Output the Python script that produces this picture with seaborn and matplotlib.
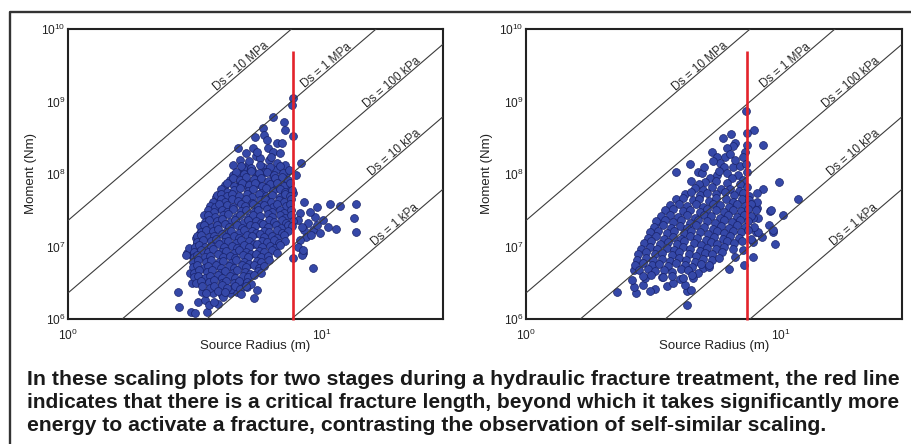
import numpy as np
import pandas as pd
import matplotlib
matplotlib.use("Agg")
import matplotlib.pyplot as plt
import matplotlib.transforms as mtransforms
from matplotlib.lines import Line2D
import seaborn as sns

sns.set_style("white")
plt.rcParams["font.family"] = ["Liberation Sans", "DejaVu Sans"]

# ---------------- data (log10 source radius [m], log10 moment [Nm]) ----------------
left_upper = [
    (0.886, 9.05), (0.882, 8.95), (0.850, 8.72), (0.807, 8.79), (0.854, 8.61), (0.768, 8.64),
    (0.886, 8.52), (0.736, 8.51), (0.772, 8.54), (0.669, 8.36), (0.728, 8.36), (0.783, 8.47),
    (0.823, 8.43), (0.787, 8.36), (0.843, 8.43), (0.701, 8.29), (0.740, 8.25), (0.807, 8.30),
    (0.835, 8.29), (0.756, 8.22), (0.791, 8.19), (0.768, 8.10), (0.709, 8.12), (0.677, 8.19),
    (0.650, 8.12), (0.854, 8.12), (0.823, 8.15), (0.724, 8.06), (0.697, 8.03), (0.650, 7.99),
    (0.638, 7.92), (0.677, 7.89), (0.748, 7.96), (0.807, 7.99), (0.847, 7.96), (0.791, 7.88),
    (0.756, 7.85), (0.709, 7.82), (0.665, 7.82), (0.862, 7.82), (0.823, 7.82), (0.886, 7.74),
    (0.598, 7.64), (0.587, 7.53), (0.610, 7.66), (0.917, 8.15), (0.898, 7.99),
    (0.714, 8.18), (0.745, 8.30), (0.800, 8.24), (0.820, 8.06), (0.860, 8.02), (0.690, 8.08),
    (0.735, 7.95), (0.775, 8.03), (0.815, 7.92), (0.858, 7.90), (0.700, 7.90), (0.620, 7.85),
    (0.680, 7.98),
]
left_beyond = [
    (0.913, 7.46), (0.929, 7.61), (0.980, 7.55), (1.031, 7.59), (1.071, 7.56), (1.134, 7.59),
    (1.126, 7.39), (1.134, 7.20), (1.055, 7.24), (1.024, 7.27), (1.004, 7.37), (0.972, 7.41),
    (0.953, 7.48), (0.945, 7.32), (0.965, 7.23), (0.929, 7.23), (0.937, 7.13), (0.913, 7.09),
    (0.906, 7.37), (0.921, 7.27), (0.992, 7.19), (0.980, 7.30), (0.957, 7.16), (0.906, 6.99),
    (0.925, 6.91), (0.965, 6.70), (0.886, 6.84), (0.921, 6.88), (0.925, 6.95),
]
left_lower = [
    (0.433, 6.37), (0.437, 6.17), (0.484, 6.10), (0.500, 6.08), (0.547, 6.10), (0.512, 6.23),
    (0.539, 6.26), (0.591, 6.21), (0.571, 6.36), (0.606, 6.33), (0.638, 6.36), (0.665, 6.37),
    (0.732, 6.29), (0.744, 6.40), (0.528, 6.37), (0.468, 6.91), (0.476, 6.98), (0.508, 7.05),
    (0.492, 6.86), (0.520, 7.19), (0.531, 7.23), (0.555, 6.19), (0.642, 6.41), (0.705, 6.44),
    (0.480, 6.64), (0.488, 6.50), (0.520, 6.57), (0.464, 6.88), (0.496, 6.89), (0.693, 6.48),
    (0.610, 6.30), (0.575, 6.24), (0.583, 7.68), (0.560, 7.50), (0.548, 7.37), (0.505, 7.12),
]
left_core = [
    (0.680, 8.11), (0.722, 8.08), (0.758, 8.12), (0.797, 8.09), (0.836, 8.11),
    (0.662, 8.03), (0.694, 8.00), (0.722, 8.04), (0.752, 8.01), (0.783, 8.03), (0.812, 7.99), (0.845, 8.02), (0.872, 8.05),
    (0.648, 7.95), (0.676, 7.92), (0.703, 7.96), (0.731, 7.93), (0.760, 7.95), (0.787, 7.91), (0.814, 7.94), (0.842, 7.96), (0.868, 7.92),
    (0.628, 7.87), (0.655, 7.84), (0.684, 7.88), (0.712, 7.85), (0.738, 7.87), (0.766, 7.83), (0.795, 7.86), (0.822, 7.88), (0.850, 7.84), (0.876, 7.87),
    (0.603, 7.80), (0.627, 7.75), (0.655, 7.78), (0.676, 7.81), (0.708, 7.76), (0.729, 7.79), (0.760, 7.74), (0.779, 7.81), (0.806, 7.77), (0.836, 7.80), (0.853, 7.75), (0.881, 7.78),
    (0.588, 7.71), (0.602, 7.72), (0.626, 7.69), (0.645, 7.73), (0.674, 7.70), (0.706, 7.72), (0.724, 7.68), (0.753, 7.73), (0.780, 7.70), (0.802, 7.71), (0.834, 7.68), (0.853, 7.73), (0.876, 7.70),
    (0.571, 7.62), (0.601, 7.65), (0.620, 7.61), (0.647, 7.66), (0.671, 7.63), (0.700, 7.65), (0.724, 7.60), (0.755, 7.64), (0.775, 7.66), (0.799, 7.62), (0.832, 7.64), (0.851, 7.61), (0.878, 7.66),
    (0.560, 7.56), (0.578, 7.55), (0.595, 7.58), (0.628, 7.57), (0.648, 7.54), (0.680, 7.58), (0.698, 7.56), (0.730, 7.59), (0.749, 7.55), (0.774, 7.57), (0.806, 7.54), (0.824, 7.59), (0.857, 7.56), (0.875, 7.58),
    (0.550, 7.51), (0.574, 7.48), (0.606, 7.50), (0.625, 7.47), (0.651, 7.52), (0.682, 7.49), (0.700, 7.51), (0.733, 7.47), (0.750, 7.50), (0.784, 7.52), (0.802, 7.48), (0.834, 7.50), (0.852, 7.46), (0.879, 7.51),
    (0.535, 7.43), (0.553, 7.44), (0.578, 7.41), (0.609, 7.43), (0.629, 7.45), (0.660, 7.41), (0.678, 7.43), (0.710, 7.40), (0.729, 7.44), (0.755, 7.42), (0.786, 7.45), (0.805, 7.41), (0.837, 7.43), (0.856, 7.40), (0.880, 7.44),
    (0.538, 7.34), (0.556, 7.37), (0.588, 7.35), (0.607, 7.38), (0.639, 7.34), (0.657, 7.36), (0.689, 7.33), (0.709, 7.37), (0.740, 7.35), (0.759, 7.32), (0.791, 7.36), (0.810, 7.34), (0.841, 7.37), (0.860, 7.33), (0.885, 7.35),
    (0.521, 7.28), (0.536, 7.30), (0.567, 7.27), (0.585, 7.29), (0.617, 7.31), (0.636, 7.27), (0.667, 7.29), (0.686, 7.26), (0.717, 7.30), (0.737, 7.28), (0.768, 7.31), (0.787, 7.27), (0.818, 7.29), (0.838, 7.26), (0.868, 7.30), (0.884, 7.28),
    (0.523, 7.20), (0.542, 7.23), (0.573, 7.21), (0.592, 7.24), (0.623, 7.20), (0.642, 7.22), (0.673, 7.19), (0.692, 7.23), (0.723, 7.21), (0.742, 7.18), (0.773, 7.22), (0.792, 7.20), (0.823, 7.23), (0.842, 7.19), (0.867, 7.21),
    (0.510, 7.14), (0.524, 7.16), (0.555, 7.13), (0.574, 7.15), (0.605, 7.17), (0.624, 7.13), (0.655, 7.15), (0.674, 7.12), (0.705, 7.16), (0.724, 7.14), (0.755, 7.17), (0.774, 7.13), (0.805, 7.15), (0.824, 7.12), (0.852, 7.16),
    (0.508, 7.06), (0.531, 7.09), (0.563, 7.07), (0.582, 7.10), (0.613, 7.06), (0.632, 7.08), (0.663, 7.05), (0.682, 7.09), (0.713, 7.07), (0.732, 7.04), (0.763, 7.08), (0.782, 7.06), (0.813, 7.09), (0.832, 7.05), (0.856, 7.07),
    (0.500, 7.00), (0.515, 7.02), (0.540, 6.99), (0.564, 7.01), (0.595, 7.03), (0.614, 6.99), (0.645, 7.01), (0.664, 6.98), (0.695, 7.02), (0.714, 7.00), (0.745, 7.03), (0.764, 6.99), (0.795, 7.01), (0.814, 6.98), (0.836, 7.02),
    (0.498, 6.92), (0.522, 6.95), (0.553, 6.93), (0.572, 6.96), (0.603, 6.92), (0.622, 6.94), (0.653, 6.91), (0.672, 6.95), (0.703, 6.93), (0.722, 6.90), (0.753, 6.94), (0.772, 6.92), (0.803, 6.95), (0.824, 6.91),
    (0.495, 6.86), (0.509, 6.88), (0.540, 6.85), (0.559, 6.87), (0.590, 6.89), (0.609, 6.85), (0.640, 6.87), (0.659, 6.84), (0.690, 6.88), (0.709, 6.86), (0.740, 6.89), (0.759, 6.85), (0.788, 6.87),
    (0.493, 6.78), (0.513, 6.81), (0.543, 6.79), (0.562, 6.82), (0.593, 6.78), (0.612, 6.80), (0.643, 6.77), (0.662, 6.81), (0.693, 6.79), (0.712, 6.76), (0.743, 6.80), (0.762, 6.78), (0.792, 6.81),
    (0.494, 6.72), (0.508, 6.74), (0.534, 6.71), (0.553, 6.73), (0.584, 6.75), (0.603, 6.71), (0.634, 6.73), (0.653, 6.70), (0.684, 6.74), (0.703, 6.72), (0.734, 6.75), (0.753, 6.71), (0.772, 6.73),
    (0.498, 6.64), (0.517, 6.67), (0.548, 6.65), (0.567, 6.68), (0.598, 6.64), (0.617, 6.66), (0.648, 6.63), (0.667, 6.67), (0.698, 6.65), (0.717, 6.62), (0.748, 6.66), (0.760, 6.64),
    (0.498, 6.58), (0.512, 6.60), (0.539, 6.57), (0.558, 6.59), (0.589, 6.61), (0.608, 6.57), (0.639, 6.59), (0.658, 6.56), (0.689, 6.60), (0.708, 6.58), (0.733, 6.61),
    (0.505, 6.50), (0.524, 6.53), (0.555, 6.51), (0.574, 6.54), (0.605, 6.50), (0.624, 6.52), (0.655, 6.49), (0.674, 6.53), (0.705, 6.51), (0.722, 6.48),
    (0.527, 6.46), (0.558, 6.43), (0.577, 6.45), (0.608, 6.47), (0.627, 6.43), (0.658, 6.45), (0.677, 6.42), (0.700, 6.46),
    (0.545, 6.36), (0.590, 6.39), (0.620, 6.37), (0.680, 6.35),
]

right_upper = [
    (0.866, 8.87), (0.894, 8.61), (0.870, 8.57), (0.933, 8.40), (0.807, 8.55), (0.772, 8.50),
    (0.823, 8.43), (0.815, 8.38), (0.732, 8.30), (0.791, 8.36), (0.862, 8.30), (0.752, 8.23),
    (0.783, 8.23), (0.854, 8.23), (0.764, 8.15), (0.815, 8.10), (0.776, 8.10), (0.839, 8.11),
    (0.866, 8.14), (0.646, 8.14), (0.591, 8.03), (0.677, 8.03), (0.693, 8.01), (0.724, 7.94),
    (0.752, 7.99), (0.791, 8.01), (0.831, 7.99), (0.854, 7.92), (0.650, 7.90), (0.705, 7.89),
    (0.735, 8.18), (0.800, 8.28), (0.760, 8.04), (0.810, 7.95), (0.870, 8.03), (0.700, 8.10),
    (0.745, 7.90), (0.790, 7.88), (0.840, 7.86), (0.680, 7.86), (0.868, 8.40), (0.820, 8.20),
]
right_beyond = [
    (0.992, 7.89), (1.067, 7.66), (0.933, 7.79), (0.909, 7.74), (0.957, 7.49), (1.008, 7.43),
    (0.909, 7.53), (0.913, 7.39), (0.890, 7.39), (0.953, 7.30), (0.969, 7.20), (0.929, 7.13),
    (0.980, 7.03), (0.902, 7.20), (0.890, 7.06), (0.890, 6.86), (0.854, 6.95), (0.858, 6.74),
    (0.823, 6.86), (0.799, 6.69), (0.909, 7.62), (0.905, 7.51), (0.961, 7.51), (0.913, 7.20),
    (0.894, 7.27), (0.972, 7.23), (0.884, 7.10),
]
right_lower = [
    (0.516, 7.34), (0.425, 6.68), (0.358, 6.37), (0.433, 6.36), (0.425, 6.44), (0.417, 6.54),
    (0.461, 6.47), (0.508, 6.41), (0.555, 6.46), (0.634, 6.19), (0.634, 6.39), (0.626, 6.47),
    (0.657, 6.57), (0.697, 6.70), (0.717, 6.72), (0.488, 6.39), (0.579, 6.49), (0.606, 6.55),
    (0.650, 6.40), (0.468, 6.56), (0.535, 6.58),
]
right_core = [
    (0.662, 7.81), (0.694, 7.78), (0.731, 7.82), (0.766, 7.79), (0.801, 7.80), (0.838, 7.77), (0.868, 7.82),
    (0.625, 7.72), (0.648, 7.75), (0.683, 7.71), (0.712, 7.74), (0.748, 7.72), (0.781, 7.75), (0.818, 7.71), (0.852, 7.74), (0.878, 7.70),
    (0.588, 7.65), (0.616, 7.67), (0.655, 7.64), (0.680, 7.66), (0.720, 7.63), (0.745, 7.67), (0.786, 7.65), (0.812, 7.62), (0.850, 7.66), (0.876, 7.64),
    (0.565, 7.57), (0.600, 7.59), (0.632, 7.56), (0.668, 7.58), (0.697, 7.55), (0.733, 7.59), (0.764, 7.57), (0.798, 7.54), (0.830, 7.58), (0.862, 7.56), (0.884, 7.59),
    (0.548, 7.50), (0.578, 7.52), (0.615, 7.49), (0.645, 7.51), (0.682, 7.48), (0.712, 7.52), (0.748, 7.50), (0.778, 7.47), (0.815, 7.51), (0.845, 7.49), (0.874, 7.52),
    (0.530, 7.42), (0.566, 7.44), (0.597, 7.41), (0.632, 7.43), (0.662, 7.40), (0.698, 7.44), (0.728, 7.42), (0.764, 7.39), (0.794, 7.43), (0.828, 7.41), (0.858, 7.44), (0.882, 7.42),
    (0.512, 7.35), (0.545, 7.37), (0.578, 7.34), (0.610, 7.36), (0.644, 7.33), (0.676, 7.37), (0.712, 7.35), (0.744, 7.32), (0.778, 7.36), (0.811, 7.34), (0.842, 7.37), (0.874, 7.35),
    (0.503, 7.27), (0.538, 7.29), (0.569, 7.26), (0.604, 7.28), (0.634, 7.25), (0.668, 7.29), (0.699, 7.27), (0.734, 7.24), (0.765, 7.28), (0.799, 7.26), (0.830, 7.29), (0.862, 7.27),
    (0.486, 7.20), (0.518, 7.22), (0.553, 7.19), (0.583, 7.21), (0.619, 7.18), (0.648, 7.22), (0.685, 7.20), (0.714, 7.17), (0.750, 7.21), (0.779, 7.19), (0.815, 7.22), (0.844, 7.20), (0.874, 7.23),
    (0.478, 7.12), (0.512, 7.14), (0.543, 7.11), (0.578, 7.13), (0.608, 7.10), (0.643, 7.14), (0.673, 7.12), (0.709, 7.09), (0.738, 7.13), (0.774, 7.11), (0.803, 7.14), (0.836, 7.12),
    (0.462, 7.05), (0.492, 7.07), (0.528, 7.04), (0.557, 7.06), (0.594, 7.03), (0.622, 7.07), (0.660, 7.05), (0.687, 7.02), (0.725, 7.06), (0.752, 7.04), (0.790, 7.07), (0.818, 7.05), (0.850, 7.08),
    (0.452, 6.97), (0.486, 6.99), (0.516, 6.96), (0.552, 6.98), (0.581, 6.95), (0.617, 6.99), (0.646, 6.97), (0.683, 6.94), (0.711, 6.98), (0.748, 6.96), (0.776, 6.99), (0.812, 6.97),
    (0.440, 6.90), (0.471, 6.92), (0.507, 6.89), (0.536, 6.91), (0.573, 6.88), (0.601, 6.92), (0.639, 6.90), (0.666, 6.87), (0.704, 6.91), (0.731, 6.89), (0.769, 6.92),
    (0.437, 6.82), (0.470, 6.84), (0.499, 6.81), (0.535, 6.83), (0.564, 6.80), (0.600, 6.84), (0.629, 6.82), (0.665, 6.79), (0.694, 6.83), (0.730, 6.81), (0.758, 6.84),
    (0.428, 6.75), (0.458, 6.77), (0.494, 6.74), (0.523, 6.76), (0.559, 6.73), (0.588, 6.77), (0.624, 6.75), (0.653, 6.72), (0.689, 6.76), (0.718, 6.74),
    (0.443, 6.67), (0.478, 6.69), (0.508, 6.66), (0.543, 6.68), (0.573, 6.65), (0.608, 6.69), (0.638, 6.67), (0.676, 6.64),
    (0.458, 6.59), (0.492, 6.61), (0.538, 6.58), (0.572, 6.60), (0.618, 6.57), (0.652, 6.61),
]

stress_drop_pa = [1e7, 1e6, 1e5, 1e4, 1e3]
stress_labels = ["Ds = 10 MPa", "Ds = 1 MPa", "Ds = 100 kPa", "Ds = 10 kPa", "Ds = 1 kPa"]
label_end_log_radius = [0.795, 1.122, 1.394, 1.394, 1.386]
critical_radius = [7.7, 7.35]      # left, right panel (m)
critical_top_moment = 5.0e9
x_limits = (1.0, 30.0)
y_limits = (1e6, 1e10)
x_ticks = [1, 10]
y_ticks = [1e6, 1e7, 1e8, 1e9, 1e10]

caption_lines = [
    "In these scaling plots for two stages during a hydraulic fracture treatment, the red line",
    "indicates that there is a critical fracture length, beyond which it takes significantly more",
    "energy to activate a fracture, contrasting the observation of self-similar scaling.",
]

# ---------------- figure ----------------
W, H = 911, 444
fig = plt.figure(figsize=(W / 100, H / 100), dpi=100)
fig.patch.set_facecolor("white")

# outer frame (left + top border)
fig.add_artist(Line2D([10 / W, 10 / W, 1.0], [0.0, 1 - 12 / H, 1 - 12 / H],
                      transform=fig.transFigure, color="#333333", lw=1.7))

panel_rects = [
    [68 / W, 1 - 319 / H, (443 - 68) / W, (319 - 29) / H],
    [526 / W, 1 - 319 / H, (902 - 526) / W, (319 - 29) / H],
]
panel_points = [
    (left_upper, left_beyond, left_lower, left_core),
    (right_upper, right_beyond, right_lower, right_core),
]
ylabel_x = [-0.083, -0.088]


def frame_from(groups):
    pts = np.array([p for g in groups for p in g])
    return pd.DataFrame({"radius": 10 ** pts[:, 0], "moment": 10 ** pts[:, 1]})


for i, rect in enumerate(panel_rects):
    ax = fig.add_axes(rect)
    df = frame_from(panel_points[i])
    sns.scatterplot(data=df, x="radius", y="moment", ax=ax, s=32,
                    color="#3548a8", edgecolor="#18226a", linewidth=0.5,
                    zorder=2, legend=False)
    ax.set_xscale("log")
    ax.set_yscale("log")
    ax.set_xlim(*x_limits)
    ax.set_ylim(*y_limits)

    # rotation of slope-3 lines on screen
    w_px = rect[2] * W
    h_px = rect[3] * H
    px_dec_x = w_px / np.log10(x_limits[1] / x_limits[0])
    px_dec_y = h_px / np.log10(y_limits[1] / y_limits[0])
    angle = np.degrees(np.arctan2(3 * px_dec_y, px_dec_x))
    th = np.radians(angle)
    off = mtransforms.offset_copy(ax.transData, fig=fig,
                                  x=-1.2 * np.sin(th), y=1.2 * np.cos(th), units="dots")

    r_line = np.array(x_limits)
    for ds, lab, lr in zip(stress_drop_pa, stress_labels, label_end_log_radius):
        m_line = 16.0 / 7.0 * ds * r_line ** 3
        ax.plot(r_line, m_line, color="#3c3c3c", lw=0.8, zorder=3)
        r_lab = 10 ** lr
        m_lab = 16.0 / 7.0 * ds * r_lab ** 3
        ax.text(r_lab, m_lab, lab, transform=off, rotation=angle,
                rotation_mode="anchor", ha="right", va="baseline",
                fontsize=8.5, color="#2a2a2a", zorder=3)

    rc = critical_radius[i]
    ax.plot([rc, rc], [0.965e6, critical_top_moment], color="#e3232b", lw=1.9,
            zorder=4, clip_on=False, solid_capstyle="butt")

    ax.set_xticks(x_ticks)
    ax.set_yticks(y_ticks)
    ax.minorticks_off()
    ax.tick_params(axis="both", length=0, labelsize=8.6, colors="#222222")
    ax.tick_params(axis="x", pad=6.5)
    ax.tick_params(axis="y", pad=2)
    ax.set_xlabel("Source Radius (m)", fontsize=9.5, color="#222222")
    ax.set_ylabel("Moment (Nm)", fontsize=9.5, color="#222222")
    ax.xaxis.set_label_coords(0.5, -0.072)
    ax.yaxis.set_label_coords(ylabel_x[i], 0.5)
    for sp in ax.spines.values():
        sp.set_visible(True)
        sp.set_color("#222222")
        sp.set_linewidth(1.5)

# caption: each line fitted to the width it takes in the reference
renderer = fig.canvas.get_renderer()
baselines = [385, 408, 431]
right_ends = [902, 903, 830]
x0 = 27
for line, yb, xe in zip(caption_lines, baselines, right_ends):
    t = fig.text(x0 / W, 1 - yb / H, line, fontsize=15.0, fontweight="bold",
                 color="#1a1a1a", ha="left", va="baseline")
    w = t.get_window_extent(renderer).width
    t.set_fontsize(15.0 * (xe - x0) / w)

fig.savefig("out.png", dpi=100)
